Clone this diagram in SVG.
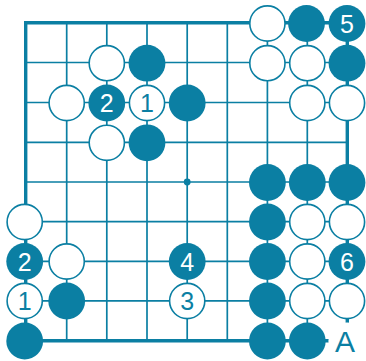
<svg xmlns="http://www.w3.org/2000/svg" width="366" height="361" viewBox="0 0 366 361">
<style>
.g{stroke:#0b7fa3;stroke-width:1.7;fill:none}
.b{stroke:#0b7fa3;stroke-width:3.4;fill:none;stroke-linecap:square}
.bk{fill:#0b7fa3}
.wh{fill:#fff;stroke:#0b7fa3;stroke-width:1.6}
.tw{fill:#fff;font-family:"Liberation Sans",Arial,sans-serif;font-size:25px;text-anchor:middle}
.tb{fill:#0b7fa3;font-family:"Liberation Sans",Arial,sans-serif;font-size:25px;text-anchor:middle}
</style>
<rect width="366" height="361" fill="#fff"/>
<g id="connectors">
<path class="g" d="M66.7 22.7V340.8M106.8 22.7V340.8M147 22.7V340.8M187.2 22.7V340.8M227.3 22.7V340.8M267.4 22.7V340.8M307.3 22.7V340.8"/>
<path class="g" d="M25.7 62.5H347.3M25.7 102.5H347.3M25.7 142.3H347.3M25.7 182H347.3M25.7 221.7H347.3M25.7 261.3H347.3M25.7 300.8H347.3"/>
<path class="b" d="M25.7 22.7H347.3V340.8H25.7Z"/>
<circle cx="187.2" cy="182" r="3.4" class="bk"/>
</g>
<g id="s-r0c6"><circle class="wh" cx="267.4" cy="23.5" r="17.6"/></g>
<g id="s-r0c7"><circle class="bk" cx="306.5" cy="23.5" r="18.4"/></g>
<g id="s-r0c8"><circle class="bk" cx="347" cy="23.5" r="18.4"/><text class="tw" x="347" y="32.5">5</text></g>
<g id="s-r1c2"><circle class="wh" cx="106.8" cy="63.2" r="17.6"/></g>
<g id="s-r1c3"><circle class="bk" cx="147" cy="63.2" r="18.4"/></g>
<g id="s-r1c6"><circle class="wh" cx="267.4" cy="63.2" r="17.6"/></g>
<g id="s-r1c7"><circle class="wh" cx="307.3" cy="63.2" r="17.6"/></g>
<g id="s-r1c8"><circle class="bk" cx="347" cy="63.2" r="18.4"/></g>
<g id="s-r2c1"><circle class="wh" cx="66.7" cy="103" r="17.6"/></g>
<g id="s-r2c2"><circle class="bk" cx="106.8" cy="103" r="18.4"/><text class="tw" x="106.8" y="112">2</text></g>
<g id="s-r2c3"><circle class="wh" cx="147" cy="103" r="17.6"/><text class="tb" x="147" y="112">1</text></g>
<g id="s-r2c4"><circle class="bk" cx="187.2" cy="103" r="18.4"/></g>
<g id="s-r2c7"><circle class="wh" cx="307.3" cy="103" r="17.6"/></g>
<g id="s-r2c8"><circle class="wh" cx="347" cy="103" r="17.6"/></g>
<g id="s-r3c2"><circle class="wh" cx="106.8" cy="142.8" r="17.6"/></g>
<g id="s-r3c3"><circle class="bk" cx="147" cy="142.8" r="18.4"/></g>
<g id="s-r4c6"><circle class="bk" cx="267.4" cy="182.5" r="18.4"/></g>
<g id="s-r4c7"><circle class="bk" cx="307.3" cy="182.5" r="18.4"/></g>
<g id="s-r4c8"><circle class="bk" cx="347" cy="182.5" r="18.4"/></g>
<g id="s-r5c0"><circle class="wh" cx="24.7" cy="222" r="17.6"/></g>
<g id="s-r5c6"><circle class="bk" cx="267.4" cy="222" r="18.4"/></g>
<g id="s-r5c7"><circle class="wh" cx="307.3" cy="222" r="17.6"/></g>
<g id="s-r5c8"><circle class="wh" cx="347" cy="222" r="17.6"/></g>
<g id="s-r6c0"><circle class="bk" cx="24.7" cy="261.5" r="18.4"/><text class="tw" x="24.7" y="270.5">2</text></g>
<g id="s-r6c1"><circle class="wh" cx="66.7" cy="261.5" r="17.6"/></g>
<g id="s-r6c4"><circle class="bk" cx="187.2" cy="261.5" r="18.4"/><text class="tw" x="187.2" y="270.5">4</text></g>
<g id="s-r6c6"><circle class="bk" cx="267.4" cy="261.5" r="18.4"/></g>
<g id="s-r6c7"><circle class="wh" cx="307.3" cy="261.5" r="17.6"/></g>
<g id="s-r6c8"><circle class="bk" cx="347" cy="261.5" r="18.4"/><text class="tw" x="347" y="270.5">6</text></g>
<g id="s-r7c0"><circle class="wh" cx="24.7" cy="301" r="17.6"/><text class="tb" x="24.7" y="310">1</text></g>
<g id="s-r7c1"><circle class="bk" cx="66.7" cy="301" r="18.4"/></g>
<g id="s-r7c4"><circle class="wh" cx="187.2" cy="301" r="17.6"/><text class="tb" x="187.2" y="310">3</text></g>
<g id="s-r7c6"><circle class="bk" cx="267.4" cy="301" r="18.4"/></g>
<g id="s-r7c7"><circle class="wh" cx="307.3" cy="301" r="17.6"/></g>
<g id="s-r7c8"><circle class="wh" cx="347" cy="301" r="17.6"/></g>
<g id="s-r8c0"><circle class="bk" cx="24.7" cy="341" r="18.4"/></g>
<g id="s-r8c6"><circle class="bk" cx="267.4" cy="341" r="18.4"/></g>
<g id="s-r8c7"><circle class="bk" cx="307.3" cy="341" r="18.4"/></g>
<g id="label-A"><circle cx="347" cy="341" r="18.6" fill="#fff"/><text class="tb" x="345" y="351.8" style="font-size:30px">A</text></g>
</svg>
